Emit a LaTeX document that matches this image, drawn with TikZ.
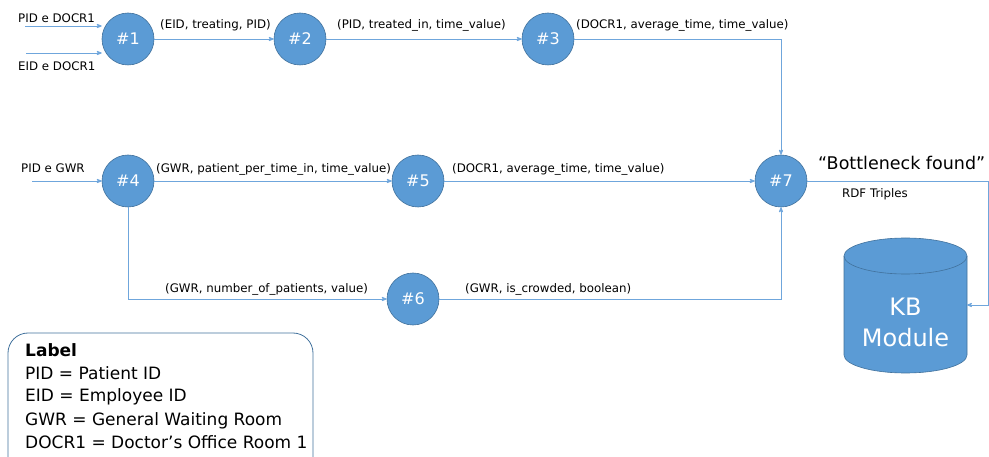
\documentclass[tikz,border=0pt]{standalone}
\usepackage{fontspec}
\setmainfont{DejaVu Sans}
\usetikzlibrary{positioning, arrows}
\definecolor{procblue}{HTML}{5B9BD5}
\definecolor{procedge}{HTML}{41719C}
\definecolor{linkblue}{HTML}{6FA6DC}
\tikzset{
>=stealth', % small pointed arrow heads
flow/.style={->, draw=linkblue, line width=0.8pt}, % every connector
proc/.style={circle, fill=procblue, draw=procedge, line width=0.6pt, minimum size=52pt, inner sep=0pt, text=white, font=\fontsize{16}{16}\selectfont}, % the numbered steps
triple/.style={anchor=base west, inner sep=0pt, font=\fontsize{11.8}{13}\selectfont}, % text on the connectors
legendtext/.style={anchor=base west, inner sep=0pt, font=\fontsize{17}{20}\selectfont},
}

\begin{document}
\begin{tikzpicture}[x=1pt, y=-1pt]
    \useasboundingbox (0,0) rectangle (989,457);
    \node[proc] (p1) at (128,39) {\#1};
    \node[proc] (p2) at (300,39) {\#2};
    \node[proc] (p3) at (548,39) {\#3};
    \node[proc] (p4) at (128,181) {\#4};
    \node[proc] (p5) at (418,181) {\#5};
    \node[proc] (p6) at (413,299) {\#6};
    \node[proc] (p7) at (781,181) {\#7};

    % knowledge base cylinder
    \fill[procblue] (844,256) -- (844,355) arc[start angle=180, end angle=360, x radius=61.5pt, y radius=18pt]
        -- (967,256) arc[start angle=0, end angle=180, x radius=61.5pt, y radius=18pt] -- cycle;
    \draw[procedge, line width=0.6pt] (844,256) -- (844,355) arc[start angle=180, end angle=360, x radius=61.5pt, y radius=18pt] -- (967,256);
    \draw[procedge, line width=0.6pt] (905.5,256) ellipse[x radius=61.5pt, y radius=18pt];
    \node[text=white, align=center, font=\fontsize{24}{31}\selectfont] (kb) at (905.5,322) {KB\\Module};
    \coordinate (kbin) at (967,305);
    \coordinate (rdfturn) at (988,305);

    % inputs
    \coordinate (in1) at (25,26);
    \coordinate (in2) at (26,53);
    \coordinate (in4) at (32,181);
    \draw[flow] (in1) -- (in1 -| p1.west);
    \draw[flow] (in2) -- (in2 -| p1.west);
    \draw[flow] (in4) -- (p4);

    % steps
    \draw[flow] (p1) -- (p2);
    \draw[flow] (p2) -- (p3);
    \draw[flow] (p3) -| (p7);
    \draw[flow] (p4) -- (p5);
    \draw[flow] (p5) -- (p7);
    \draw[flow] (p4) |- (p6);
    \draw[flow] (p6) -| (p7);
    \draw[flow] (p7) -| (rdfturn) -- (kbin);

    \node[triple] (t1a) at (18,23) {PID e DOCR1};
    \node[triple] (t1b) at (18,71) {EID e DOCR1};
    \node[triple] (t12) at (160,29) {(EID, treating, PID)};
    \node[triple] (t23) at (337,29) {(PID, treated\_in, time\_value)};
    \node[triple] (t37) at (576,29) {(DOCR1, average\_time, time\_value)};
    \node[triple] (t4) at (21,173) {PID e GWR};
    \node[triple] (t45) at (156,173) {(GWR, patient\_per\_time\_in, time\_value)};
    \node[triple] (t57) at (452,173) {(DOCR1, average\_time, time\_value)};
    \node[triple] (t46) at (165,293) {(GWR, number\_of\_patients, value)};
    \node[triple] (t67) at (465,293) {(GWR, is\_crowded, boolean)};
    \node[triple] (rdf) at (842,198) {RDF Triples};
    \node[legendtext, font=\fontsize{17.5}{20}\selectfont] (found) at (818,170) {“Bottleneck found”};

    % legend
    \draw[procedge, line width=0.8pt, rounded corners=20pt] (8,333) rectangle (313,480);
    \node[legendtext, font=\fontsize{17}{20}\selectfont\bfseries] (lab) at (25,357) {Label};
    \node[legendtext] (l1) at (25,380) {PID = Patient ID};
    \node[legendtext] (l2) at (25,402) {EID = Employee ID};
    \node[legendtext] (l3) at (25,425) {GWR = General Waiting Room};
    \node[legendtext] (l4) at (25,448) {DOCR1 = Doctor’s Office Room 1};
\end{tikzpicture}
\end{document}
